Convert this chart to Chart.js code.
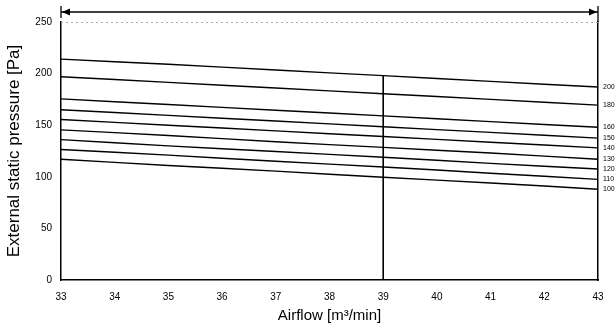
<!DOCTYPE html>
<html>
<head>
<meta charset="utf-8">
<script src="https://cdn.jsdelivr.net/npm/chart.js@4"></script>
<style>
html,body{margin:0;padding:0;background:#fff;}
#wrap{width:616px;height:329px;}
</style>
</head>
<body>
<div id="wrap"><canvas id="c" width="616" height="329"></canvas></div>
<script>
const airflow = [33, 35, 37, 39, 41, 43];
const curveLabels = ["200", "180", "160", "150", "140", "130", "120", "110", "100"];
const p200 = [214, 209, 203.5, 198, 192.5, 187];
const p180 = [197, 191.5, 186, 180.5, 175, 169.5];
const p160 = [175.5, 170, 164.5, 159, 153.5, 148];
const p150 = [165, 159.5, 154, 148.5, 143, 137.5];
const p140 = [155.5, 150, 144.5, 139, 133.5, 128];
const p130 = [145.5, 140, 134, 128.5, 123, 117];
const p120 = [136, 130, 124.5, 119, 113, 107.5];
const p110 = [126.5, 121, 115, 109.5, 103.5, 97.5];
const p100 = [117, 111, 105.5, 99.5, 94, 88];
const curves = [p200, p180, p160, p150, p140, p130, p120, p110, p100];
const markerAirflow = 39;
const markerPressure = [0, 198];
const xTicks = [33, 34, 35, 36, 37, 38, 39, 40, 41, 42, 43];
const yTicks = [0, 50, 100, 150, 200, 250];

const datasets = curves.map((vals, i) => ({
  label: curveLabels[i],
  data: airflow.map((x, j) => ({x: x, y: vals[j]})),
  borderColor: '#000',
  borderWidth: 1.4,
  pointRadius: 0,
  tension: 0.3,
  fill: false
}));
datasets.push({
  label: 'marker',
  data: markerPressure.map(y => ({x: markerAirflow, y: y})),
  borderColor: '#000',
  borderWidth: 1.6,
  pointRadius: 0,
  fill: false
});

const decor = {
  id: 'decor',
  afterDraw(chart) {
    const ctx = chart.ctx;
    const xs = chart.scales.x, ys = chart.scales.y;
    const ca = chart.chartArea;
    ctx.save();
    ctx.fillStyle = '#000';
    ctx.font = '7px "Liberation Sans", Arial, sans-serif';
    ctx.textBaseline = 'middle';
    ctx.textAlign = 'left';
    curves.forEach((vals, i) => {
      const px = xs.getPixelForValue(airflow[airflow.length - 1]);
      const py = ys.getPixelForValue(vals[vals.length - 1]);
      ctx.fillText(curveLabels[i], px + 5, py);
    });
    const x0 = xs.getPixelForValue(xTicks[0]);
    const x1 = xs.getPixelForValue(xTicks[xTicks.length - 1]);
    const ay = ca.top - 10;
    ctx.strokeStyle = '#000';
    ctx.lineWidth = 1.3;
    ctx.beginPath();
    ctx.moveTo(x0, ay); ctx.lineTo(x1, ay);
    ctx.moveTo(x0, ay - 6); ctx.lineTo(x0, ay + 6);
    ctx.moveTo(x1, ay - 6); ctx.lineTo(x1, ca.top);
    ctx.stroke();
    ctx.beginPath();
    ctx.moveTo(x0 + 1, ay); ctx.lineTo(x0 + 9, ay - 3.5); ctx.lineTo(x0 + 9, ay + 3.5); ctx.closePath();
    ctx.moveTo(x1 - 1, ay); ctx.lineTo(x1 - 9, ay - 3.5); ctx.lineTo(x1 - 9, ay + 3.5); ctx.closePath();
    ctx.fill();
    ctx.strokeStyle = '#aaa';
    ctx.lineWidth = 1;
    ctx.setLineDash([2, 3]);
    ctx.beginPath();
    ctx.moveTo(ca.left, ca.top + 0.5); ctx.lineTo(ca.right, ca.top + 0.5);
    ctx.stroke();
    ctx.restore();
  }
};

new Chart(document.getElementById('c'), {
  type: 'line',
  data: { datasets: datasets },
  options: {
    responsive: false,
    animation: false,
    layout: { padding: { top: 22, right: 18, left: 0, bottom: 0 } },
    plugins: { legend: { display: false }, tooltip: { enabled: false } },
    scales: {
      x: {
        type: 'linear',
        min: 33, max: 43,
        afterBuildTicks: s => { s.ticks = xTicks.map(v => ({value: v})); },
        afterFit: s => { s.height = 49; },
        grid: { display: false, drawTicks: false },
        border: { color: '#000', width: 1.5 },
        ticks: { color: '#000', padding: 11, font: { family: '"Liberation Sans", Arial, sans-serif', size: 10 } },
        title: { display: true, text: 'Airflow [m³/min]', color: '#000', padding: { top: 0, bottom: 4 },
                 font: { family: '"Liberation Sans", Arial, sans-serif', size: 15 } }
      },
      y: {
        min: 0, max: 250,
        afterBuildTicks: s => { s.ticks = yTicks.map(v => ({value: v})); },
        afterFit: s => { s.width = 61; },
        grid: { display: false, drawTicks: false },
        border: { color: '#000', width: 1.5 },
        ticks: { color: '#000', padding: 9, font: { family: '"Liberation Sans", Arial, sans-serif', size: 10 } },
        title: { display: true, text: 'External static pressure [Pa]', color: '#000', padding: { top: 4, bottom: 0 },
                 font: { family: '"Liberation Sans", Arial, sans-serif', size: 17 } }
      },
      yr: {
        position: 'right',
        min: 0, max: 250,
        grid: { display: false, drawTicks: false },
        border: { color: '#000', width: 1.5 },
        ticks: { display: false },
        afterFit: s => { s.width = 0; }
      }
    }
  },
  plugins: [decor]
});
</script>
</body>
</html>
